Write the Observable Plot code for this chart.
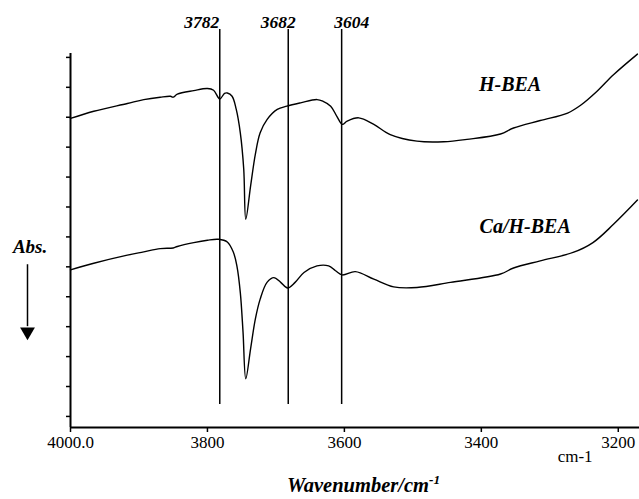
<!DOCTYPE html>
<html>
<head>
<meta charset="utf-8">
<script src="https://cdn.jsdelivr.net/npm/d3@7"></script>
<script src="https://cdn.jsdelivr.net/npm/@observablehq/plot@0.6"></script>
<style>
  html, body { margin: 0; padding: 0; background: #fff; }
  #chart svg { display: block; }
  #chart svg text { font-family: "Liberation Serif", "Times New Roman", serif; }
</style>
</head>
<body>
<div id="chart"></div>
<script>
// ---- Data ----
const seriesNames = ["H-BEA", "Ca/H-BEA"];

const hbeaWn  = [4000, 3966, 3917, 3893, 3869, 3854, 3850, 3844, 3820, 3800, 3791, 3782, 3775, 3771, 3764, 3758, 3752, 3747, 3744, 3737, 3730, 3723, 3713, 3698, 3684, 3664, 3640, 3631, 3620, 3611, 3603, 3596, 3579, 3557, 3533, 3494, 3455, 3421, 3372, 3353, 3314, 3274, 3255, 3231, 3207, 3172];
const hbeaAbs = [0.996, 1.020, 1.046, 1.059, 1.067, 1.070, 1.067, 1.077, 1.089, 1.096, 1.090, 1.061, 1.080, 1.081, 1.070, 1.027, 0.948, 0.827, 0.659, 0.770, 0.877, 0.948, 0.992, 1.026, 1.037, 1.048, 1.059, 1.053, 1.037, 1.003, 0.976, 0.987, 0.998, 0.976, 0.942, 0.920, 0.918, 0.926, 0.944, 0.964, 0.989, 1.014, 1.040, 1.087, 1.142, 1.211];

const caWn  = [4000, 3966, 3917, 3893, 3869, 3850, 3844, 3820, 3800, 3784, 3771, 3762, 3757, 3752, 3748, 3744, 3737, 3730, 3723, 3713, 3703, 3693, 3683, 3672, 3659, 3640, 3623, 3613, 3603, 3584, 3557, 3528, 3494, 3445, 3372, 3353, 3314, 3266, 3237, 3207, 3172];
const caAbs = [0.490, 0.512, 0.539, 0.550, 0.561, 0.563, 0.568, 0.581, 0.589, 0.592, 0.583, 0.548, 0.503, 0.414, 0.281, 0.126, 0.226, 0.326, 0.392, 0.448, 0.464, 0.448, 0.429, 0.448, 0.481, 0.503, 0.503, 0.487, 0.473, 0.484, 0.459, 0.433, 0.431, 0.448, 0.476, 0.496, 0.520, 0.548, 0.581, 0.642, 0.723];

const peakWn     = [3782, 3682, 3604];
const peakLabels = ["3782", "3682", "3604"];

const xTicks      = [4000, 3800, 3600, 3400, 3200];
const xTickLabels = ["4000.0", "3800", "3600", "3400", "3200"];
const yTicks      = [0, 0.1, 0.2, 0.3, 0.4, 0.5, 0.6, 0.7, 0.8, 0.9, 1.0, 1.1, 1.2];

const xUnitLabel  = "cm-1";
const xTitle      = "Wavenumber/cm";
const xTitleSup   = "-1";
const yTitle      = "Abs.";

// ---- Build tables ----
const hbea = hbeaWn.map((w, i) => ({ w, a: hbeaAbs[i] }));
const ca   = caWn.map((w, i) => ({ w, a: caAbs[i] }));

const X_DOMAIN = [4000, 3169];
const Y_DOMAIN = [-0.037, 1.213];
const serif = "Liberation Serif, Times New Roman, serif";
const labelStyle = { fontFamily: serif, fontWeight: "bold", fontStyle: "italic", fill: "black" };

const peakDx = [-18, -10, 10];

const plot = Plot.plot({
  width: 639,
  height: 499,
  marginLeft: 70,
  marginRight: 0,
  marginTop: 53,
  marginBottom: 72,
  style: { fontFamily: serif, fontSize: "17px", color: "black", background: "white" },
  x: { domain: X_DOMAIN, label: null },
  y: { domain: Y_DOMAIN, label: null },
  marks: [
    // axes
    Plot.axisX({ ticks: xTicks, tickSize: 5, tickPadding: 3, tickFormat: d => xTickLabels[xTicks.indexOf(d)], label: null, fontSize: 17, fontFamily: serif, strokeWidth: 1.5 }),
    Plot.axisY({ ticks: yTicks, tickSize: 4, tickFormat: () => "", label: null, strokeWidth: 1.5 }),
    Plot.ruleY([Y_DOMAIN[0]], { stroke: "black", strokeWidth: 2 }),
    Plot.ruleX([X_DOMAIN[0]], { y1: Y_DOMAIN[0], y2: Y_DOMAIN[1], stroke: "black", strokeWidth: 2 }),
    // peak rules
    Plot.ruleX(peakWn, { y1: 0.04, y2: 1.293, stroke: "black", strokeWidth: 1.5 }),
    ...peakWn.map((w, i) => Plot.text([w], { x: d => d, y: 1.318, text: [peakLabels[i]], dx: peakDx[i], fontSize: 17.5, ...labelStyle })),
    // spectra
    Plot.line(hbea, { x: "w", y: "a", stroke: "black", strokeWidth: 1.4, curve: "catmull-rom" }),
    Plot.line(ca,   { x: "w", y: "a", stroke: "black", strokeWidth: 1.4, curve: "catmull-rom" }),
    // series labels
    Plot.text([seriesNames[0]], { x: 3358, y: 1.108, text: d => d, fontSize: 20, ...labelStyle }),
    Plot.text([seriesNames[1]], { x: 3336, y: 0.635, text: d => d, fontSize: 20, ...labelStyle }),
    // y title with arrow
    Plot.text([yTitle], { x: 4059, y: 0.567, text: d => d, fontSize: 19, ...labelStyle }),
    Plot.ruleX([4062.8], { y1: 0.507, y2: 0.30, stroke: "black", strokeWidth: 1.5 }),
    Plot.dot([4062.8], { x: d => d, y: 0.283, symbol: "triangle", rotate: 180, r: 5.5, fill: "black", stroke: "none" }),
    // x unit and title
    Plot.text([xUnitLabel], { x: 3263, y: -0.135, text: d => d, fontSize: 17, fontFamily: serif, fill: "black" }),
    Plot.text([xTitle], { x: 3572, y: -0.23, text: d => d, fontSize: 20.5, ...labelStyle, className: "xtitle" })
  ]
});

// superscript on x title
d3.select(plot).selectAll("g.xtitle text").append("tspan")
  .attr("dy", "-0.55em").attr("font-size", "0.65em").text(xTitleSup);

document.getElementById("chart").appendChild(plot);
</script>
</body>
</html>
